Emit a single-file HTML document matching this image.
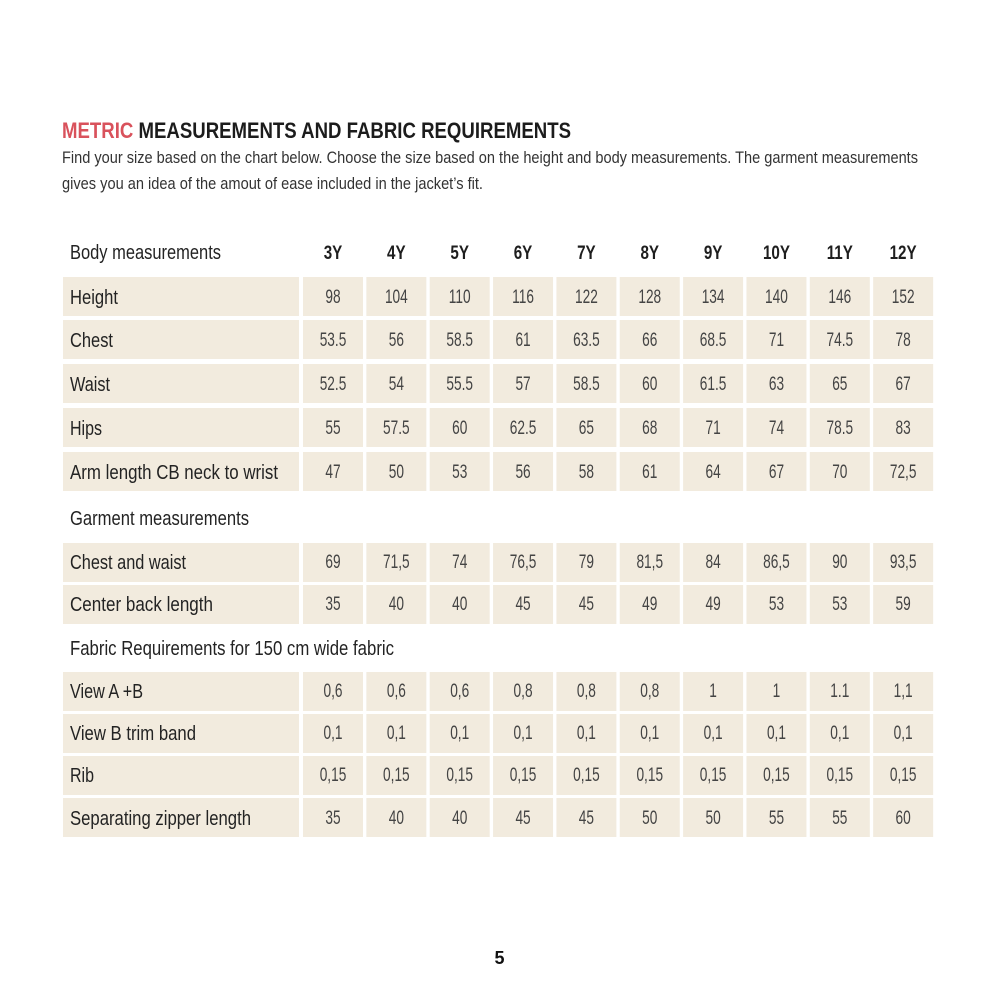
<!DOCTYPE html>
<html><head><meta charset="utf-8"><style>
html,body{margin:0;padding:0;background:#fff;}
svg{display:block;}
.lab{font-family:"Liberation Sans",sans-serif;font-size:20px;fill:#232323;}
.num text{font-family:"Liberation Sans",sans-serif;font-size:19px;fill:#444;text-anchor:middle;}
.hd{font-family:"Liberation Sans",sans-serif;font-size:19px;font-weight:bold;fill:#1e1e1e;text-anchor:middle;}
.cell{fill:#f2ebde;}
</style></head><body>
<svg width="1000" height="1000" viewBox="0 0 1000 1000" xmlns="http://www.w3.org/2000/svg">
<rect width="1000" height="1000" fill="#fff"/>
<text x="62" y="138" font-family="Liberation Sans, sans-serif" font-size="22" font-weight="bold" fill="#1c1c1c" textLength="509" lengthAdjust="spacingAndGlyphs"><tspan fill="#d9525c">METRIC</tspan> MEASUREMENTS AND FABRIC REQUIREMENTS</text>
<text x="62" y="163" font-family="Liberation Sans, sans-serif" font-size="17" fill="#333" textLength="856" lengthAdjust="spacingAndGlyphs">Find your size based on the chart below. Choose the size based on the height and body measurements. The garment measurements</text>
<text x="62" y="189" font-family="Liberation Sans, sans-serif" font-size="17" fill="#333" textLength="421" lengthAdjust="spacingAndGlyphs">gives you an idea of the amout of ease included in the jacket’s fit.</text>

<g class="cell">
<g id="r1"><rect x="63" y="277" width="236" height="39"/><rect x="303" y="277" width="60" height="39"/><rect x="366.35" y="277" width="60" height="39"/><rect x="429.7" y="277" width="60" height="39"/><rect x="493.05" y="277" width="60" height="39"/><rect x="556.4" y="277" width="60" height="39"/><rect x="619.75" y="277" width="60" height="39"/><rect x="683.1" y="277" width="60" height="39"/><rect x="746.45" y="277" width="60" height="39"/><rect x="809.8" y="277" width="60" height="39"/><rect x="873.15" y="277" width="60" height="39"/></g>
<use href="#r1" y="43"/>
<use href="#r1" y="87"/>
<use href="#r1" y="131"/>
<use href="#r1" y="175"/>
<use href="#r1" y="266"/>
<use href="#r1" y="308"/>
<use href="#r1" y="395"/>
<use href="#r1" y="437"/>
<use href="#r1" y="479"/>
<use href="#r1" y="521"/>
</g>

<text class="lab" x="70" y="259" textLength="151" lengthAdjust="spacingAndGlyphs">Body measurements</text>
<text class="lab" x="70" y="304" textLength="48" lengthAdjust="spacingAndGlyphs">Height</text>
<text class="lab" x="70" y="347" textLength="43" lengthAdjust="spacingAndGlyphs">Chest</text>
<text class="lab" x="70" y="391" textLength="40" lengthAdjust="spacingAndGlyphs">Waist</text>
<text class="lab" x="70" y="435" textLength="32" lengthAdjust="spacingAndGlyphs">Hips</text>
<text class="lab" x="70" y="479" textLength="208" lengthAdjust="spacingAndGlyphs">Arm length CB neck to wrist</text>
<text class="lab" x="70" y="525" textLength="179" lengthAdjust="spacingAndGlyphs">Garment measurements</text>
<text class="lab" x="70" y="569" textLength="116" lengthAdjust="spacingAndGlyphs">Chest and waist</text>
<text class="lab" x="70" y="611" textLength="143" lengthAdjust="spacingAndGlyphs">Center back length</text>
<text class="lab" x="70" y="655" textLength="324" lengthAdjust="spacingAndGlyphs">Fabric Requirements for 150 cm wide fabric</text>
<text class="lab" x="70" y="698" textLength="73" lengthAdjust="spacingAndGlyphs">View A +B</text>
<text class="lab" x="70" y="740" textLength="126" lengthAdjust="spacingAndGlyphs">View B trim band</text>
<text class="lab" x="70" y="782" textLength="24" lengthAdjust="spacingAndGlyphs">Rib</text>
<text class="lab" x="70" y="825" textLength="181" lengthAdjust="spacingAndGlyphs">Separating zipper length</text>

<g transform="scale(0.8 1)">
<text class="hd" x="416.25" y="259">3Y</text>
<text class="hd" x="495.4" y="259">4Y</text>
<text class="hd" x="574.6" y="259">5Y</text>
<text class="hd" x="653.8" y="259">6Y</text>
<text class="hd" x="733" y="259">7Y</text>
<text class="hd" x="812.2" y="259">8Y</text>
<text class="hd" x="891.4" y="259">9Y</text>
<text class="hd" x="970.6" y="259">10Y</text>
<text class="hd" x="1049.75" y="259">11Y</text>
<text class="hd" x="1128.9" y="259">12Y</text>
</g>

<g class="num">
<g transform="translate(333 0) scale(0.72 1)"><text y="303">98</text><text y="346">53.5</text><text y="390">52.5</text><text y="434">55</text><text y="478">47</text><text y="568">69</text><text y="610">35</text><text y="697">0,6</text><text y="739">0,1</text><text y="781">0,15</text><text y="824">35</text></g>
<g transform="translate(396.35 0) scale(0.72 1)"><text y="303">104</text><text y="346">56</text><text y="390">54</text><text y="434">57.5</text><text y="478">50</text><text y="568">71,5</text><text y="610">40</text><text y="697">0,6</text><text y="739">0,1</text><text y="781">0,15</text><text y="824">40</text></g>
<g transform="translate(459.7 0) scale(0.72 1)"><text y="303">110</text><text y="346">58.5</text><text y="390">55.5</text><text y="434">60</text><text y="478">53</text><text y="568">74</text><text y="610">40</text><text y="697">0,6</text><text y="739">0,1</text><text y="781">0,15</text><text y="824">40</text></g>
<g transform="translate(523.05 0) scale(0.72 1)"><text y="303">116</text><text y="346">61</text><text y="390">57</text><text y="434">62.5</text><text y="478">56</text><text y="568">76,5</text><text y="610">45</text><text y="697">0,8</text><text y="739">0,1</text><text y="781">0,15</text><text y="824">45</text></g>
<g transform="translate(586.4 0) scale(0.72 1)"><text y="303">122</text><text y="346">63.5</text><text y="390">58.5</text><text y="434">65</text><text y="478">58</text><text y="568">79</text><text y="610">45</text><text y="697">0,8</text><text y="739">0,1</text><text y="781">0,15</text><text y="824">45</text></g>
<g transform="translate(649.75 0) scale(0.72 1)"><text y="303">128</text><text y="346">66</text><text y="390">60</text><text y="434">68</text><text y="478">61</text><text y="568">81,5</text><text y="610">49</text><text y="697">0,8</text><text y="739">0,1</text><text y="781">0,15</text><text y="824">50</text></g>
<g transform="translate(713.1 0) scale(0.72 1)"><text y="303">134</text><text y="346">68.5</text><text y="390">61.5</text><text y="434">71</text><text y="478">64</text><text y="568">84</text><text y="610">49</text><text y="697">1</text><text y="739">0,1</text><text y="781">0,15</text><text y="824">50</text></g>
<g transform="translate(776.45 0) scale(0.72 1)"><text y="303">140</text><text y="346">71</text><text y="390">63</text><text y="434">74</text><text y="478">67</text><text y="568">86,5</text><text y="610">53</text><text y="697">1</text><text y="739">0,1</text><text y="781">0,15</text><text y="824">55</text></g>
<g transform="translate(839.8 0) scale(0.72 1)"><text y="303">146</text><text y="346">74.5</text><text y="390">65</text><text y="434">78.5</text><text y="478">70</text><text y="568">90</text><text y="610">53</text><text y="697">1.1</text><text y="739">0,1</text><text y="781">0,15</text><text y="824">55</text></g>
<g transform="translate(903.15 0) scale(0.72 1)"><text y="303">152</text><text y="346">78</text><text y="390">67</text><text y="434">83</text><text y="478">72,5</text><text y="568">93,5</text><text y="610">59</text><text y="697">1,1</text><text y="739">0,1</text><text y="781">0,15</text><text y="824">60</text></g>
</g>

<text x="499.5" y="964" font-family="Liberation Sans, sans-serif" font-size="18" font-weight="bold" fill="#111" text-anchor="middle">5</text>
</svg>
</body></html>
